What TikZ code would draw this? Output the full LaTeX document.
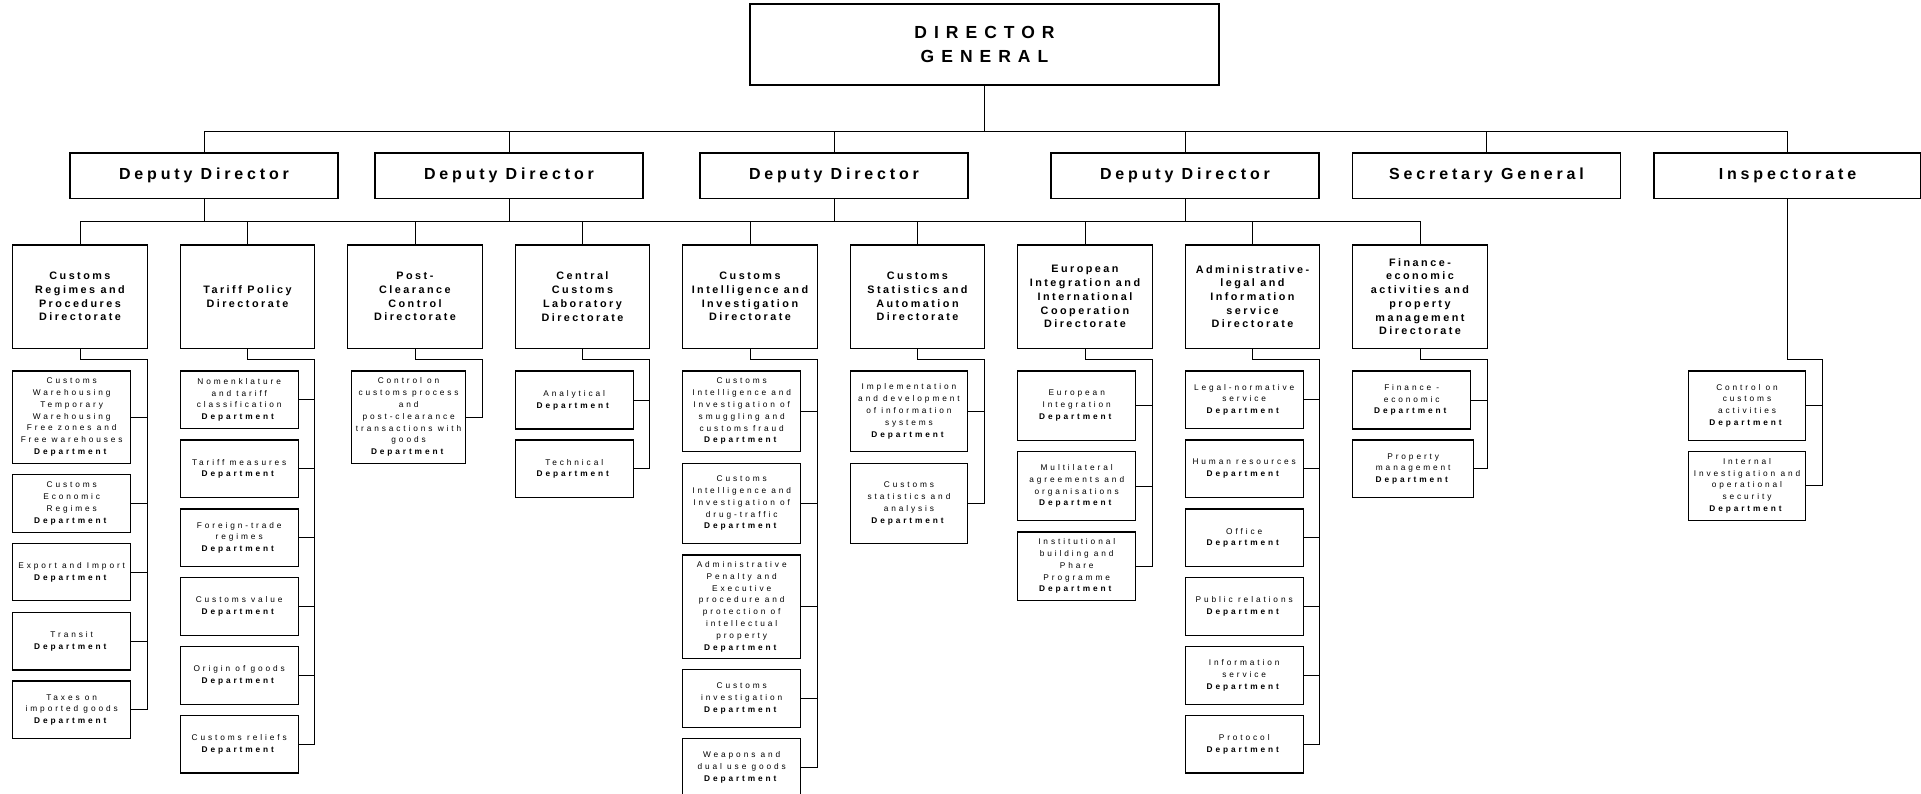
\documentclass[tikz,border=0pt]{standalone}
\usepackage{fontspec}
\setmainfont{Liberation Sans}
\newfontfamily\dgf[LetterSpace=40]{Liberation Sans}
\newfontfamily\ddf[LetterSpace=24]{Liberation Sans}
\newfontfamily\dirf[LetterSpace=23]{Liberation Sans}
\newfontfamily\depf[LetterSpace=35]{Liberation Sans}
\newcommand\Dep{\textbf{Department}}
\begin{document}
\begin{tikzpicture}[x=1pt,y=-1pt,
  conn/.style={line width=0.9pt},
  bx/.style={draw, line width=1.2pt, inner sep=0pt, outer sep=0pt, align=center, anchor=north west},
  dgbox/.style={bx, font=\dgf\bfseries\fontsize{17.5}{24}\selectfont},
  ddbox/.style={bx, minimum width=268pt, minimum height=45.5pt, font=\ddf\bfseries\fontsize{16}{19}\selectfont},
  dirbox/.style={bx, minimum width=134.5pt, minimum height=103.3pt, font=\dirf\bfseries\fontsize{10.8}{13.7}\selectfont},
  depbox/.style={bx, font=\depf\fontsize{8.3}{11.8}\selectfont},
]
\useasboundingbox (0,0) rectangle (1921,794);
% top level
\node[dgbox, minimum width=469pt, minimum height=81pt] (dg) at (750,4) {DIRECTOR\\GENERAL};
\node[ddbox] (dd1) at (70,153) {Deputy Director};
\node[ddbox] (dd2) at (375,153) {Deputy Director};
\node[ddbox] (dd3) at (700,153) {Deputy Director};
\node[ddbox] (dd4) at (1051,153) {Deputy Director};
\node[ddbox] (sg) at (1352.5,153) {Secretary General};
\node[ddbox, minimum width=267pt] (insp) at (1654,153) {Inspectorate};
% directorates
\node[dirbox] (d1) at (12.7,245) {Customs\\Regimes and\\Procedures\\Directorate};
\node[dirbox] (d2) at (180.2,245) {Tariff Policy\\Directorate};
\node[dirbox] (d3) at (347.7,245) {Post-\\Clearance\\Control\\Directorate};
\node[dirbox] (d4) at (515.2,245) {Central\\Customs\\Laboratory\\Directorate};
\node[dirbox] (d5) at (682.7,245) {Customs\\Intelligence and\\Investigation\\Directorate};
\node[dirbox] (d6) at (850.2,245) {Customs\\Statistics and\\Automation\\Directorate};
\node[dirbox] (d7) at (1017.7,245) {European\\Integration and\\International\\Cooperation\\Directorate};
\node[dirbox] (d8) at (1185.2,245) {Administrative-\\legal and\\Information\\service\\Directorate};
\node[dirbox] (d9) at (1352.7,245) {Finance-\\economic\\activities and\\property\\management\\Directorate};
% D1 departments
\node[depbox, minimum width=118pt, minimum height=92.3pt] (a1) at (12.7,371) {Customs\\Warehousing\\Temporary\\Warehousing\\Free zones and\\Free warehouses\\\Dep};
\node[depbox, minimum width=118pt, minimum height=58pt] (a2) at (12.7,474.3) {Customs\\Economic\\Regimes\\\Dep};
\node[depbox, minimum width=118pt, minimum height=57.4pt] (a3) at (12.7,543.3) {Export and Import\\\Dep};
\node[depbox, minimum width=118pt, minimum height=57.7pt] (a4) at (12.7,612.3) {Transit\\\Dep};
\node[depbox, minimum width=118pt, minimum height=57.7pt] (a5) at (12.7,681) {Taxes on\\imported goods\\\Dep};
% D2 departments
\node[depbox, minimum width=118pt, minimum height=57.7pt] (b1) at (180.2,371) {Nomenklature\\and tariff\\classification\\\Dep};
\node[depbox, minimum width=118pt, minimum height=57.7pt] (b2) at (180.2,440) {Tariff measures\\\Dep};
\node[depbox, minimum width=118pt, minimum height=57.7pt] (b3) at (180.2,509) {Foreign-trade\\regimes\\\Dep};
\node[depbox, minimum width=118pt, minimum height=57.7pt] (b4) at (180.2,577.7) {Customs value\\\Dep};
\node[depbox, minimum width=118pt, minimum height=57.7pt] (b5) at (180.2,646.7) {Origin of goods\\\Dep};
\node[depbox, minimum width=118pt, minimum height=57.7pt] (b6) at (180.2,715.3) {Customs reliefs\\\Dep};
% D3
\node[depbox, minimum width=114pt, minimum height=92.3pt] (c1) at (351.6,371) {Control on\\customs process\\and\\post-clearance\\transactions with\\goods\\\Dep};
% D4
\node[depbox, minimum width=118pt, minimum height=58pt] (e1) at (515.2,371) {Analytical\\\Dep};
\node[depbox, minimum width=118pt, minimum height=57.7pt] (e2) at (515.2,440) {Technical\\\Dep};
% D5
\node[depbox, minimum width=118pt, minimum height=80.7pt] (f1) at (682.7,371) {Customs\\Intelligence and\\Investigation of\\smuggling and\\customs fraud\\\Dep};
\node[depbox, minimum width=118pt, minimum height=80pt] (f2) at (682.7,463.3) {Customs\\Intelligence and\\Investigation of\\drug-traffic\\\Dep};
\node[depbox, minimum width=118pt, minimum height=103.3pt] (f3) at (682.7,555) {Administrative\\Penalty and\\Executive\\procedure and\\protection of\\intellectual\\property\\\Dep};
\node[depbox, minimum width=118pt, minimum height=57.6pt] (f4) at (682.7,669.7) {Customs\\investigation\\\Dep};
\node[depbox, minimum width=118pt, minimum height=57.6pt] (f5) at (682.7,738.7) {Weapons and\\dual use goods\\\Dep};
% D6
\node[depbox, minimum width=117.5pt, minimum height=80.7pt] (g1) at (850.2,371) {Implementation\\and development\\of information\\systems\\\Dep};
\node[depbox, minimum width=117.5pt, minimum height=80pt] (g2) at (850.2,463.3) {Customs\\statistics and\\analysis\\\Dep};
% D7
\node[depbox, minimum width=118pt, minimum height=69.3pt] (h1) at (1017.7,371) {European\\Integration\\\Dep};
\node[depbox, minimum width=118pt, minimum height=68.6pt] (h2) at (1017.7,451.7) {Multilateral\\agreements and\\organisations\\\Dep};
\node[depbox, minimum width=118pt, minimum height=68.3pt] (h3) at (1017.7,532) {Institutional\\building and\\Phare\\Programme\\\Dep};
% D8
\node[depbox, minimum width=118pt, minimum height=57.7pt] (k1) at (1185.2,371) {Legal-normative\\service\\\Dep};
\node[depbox, minimum width=118pt, minimum height=57.7pt] (k2) at (1185.2,440) {Human resources\\\Dep};
\node[depbox, minimum width=118pt, minimum height=57.7pt] (k3) at (1185.2,509) {Office\\\Dep};
\node[depbox, minimum width=118pt, minimum height=57.7pt] (k4) at (1185.2,577.7) {Public relations\\\Dep};
\node[depbox, minimum width=118pt, minimum height=57.7pt] (k5) at (1185.2,646.7) {Information\\service\\\Dep};
\node[depbox, minimum width=118pt, minimum height=57.7pt] (k6) at (1185.2,715.3) {Protocol\\\Dep};
% D9
\node[depbox, minimum width=118pt, minimum height=58pt] (m1) at (1352.7,371) {Finance -\\economic\\\Dep};
\node[depbox, minimum width=121pt, minimum height=57.7pt] (m2) at (1352.7,440) {Property\\management\\\Dep};
% Inspectorate
\node[depbox, minimum width=117.4pt, minimum height=69.3pt] (n1) at (1688.3,371) {Control on\\customs\\activities\\\Dep};
\node[depbox, minimum width=117.4pt, minimum height=69pt] (n2) at (1688.3,451.3) {Internal\\Investigation and\\operational\\security\\\Dep};
% buses
\coordinate (y1) at (0,131);
\coordinate (y2) at (0,221);
\coordinate (y3) at (0,359.5);
\coordinate (ix) at (1822,359.5);
\draw[conn] (dg.south) -- (dg.south |- y1);
\draw[conn] (dd1.north) -- (dd1.north |- y1) -- (insp.north |- y1) -- (insp.north);
\foreach \n in {dd2,dd3,dd4,sg} \draw[conn] (\n.north) -- (\n.north |- y1);
\foreach \n in {dd1,dd2,dd3,dd4} \draw[conn] (\n.south) -- (\n.south |- y2);
\draw[conn] (d1.north) -- (d1.north |- y2) -- (d9.north |- y2) -- (d9.north);
\foreach \n in {d2,d3,d4,d5,d6,d7,d8} \draw[conn] (\n.north) -- (\n.north |- y2);
% brackets
\foreach \d/\last/\rest in {d1/a5/{a1,a2,a3,a4}, d2/b6/{b1,b2,b3,b4,b5}, d4/e2/{e1}, d5/f5/{f1,f2,f3,f4}, d6/g2/{g1}, d7/h3/{h1,h2}, d8/k6/{k1,k2,k3,k4,k5}, d9/m2/{m1}} {
  \draw[conn] (\d.south) -- (\d.south |- y3) -- (\d.east |- y3) -- (\d.east |- \last.east) -- (\last.east);
  \foreach \n in \rest \draw[conn] (\n.east) -- (\n.east -| \d.east);
}
\draw[conn] (d3.south) -- (d3.south |- y3) -- (d3.east |- y3) -- (d3.east |- c1.east) -- (c1.east);
\draw[conn] (insp.south) -- (insp.south |- y3) -- (ix) -- (ix |- n2.east) -- (n2.east);
\draw[conn] (n1.east) -- (n1.east -| ix);
\end{tikzpicture}
\end{document}
